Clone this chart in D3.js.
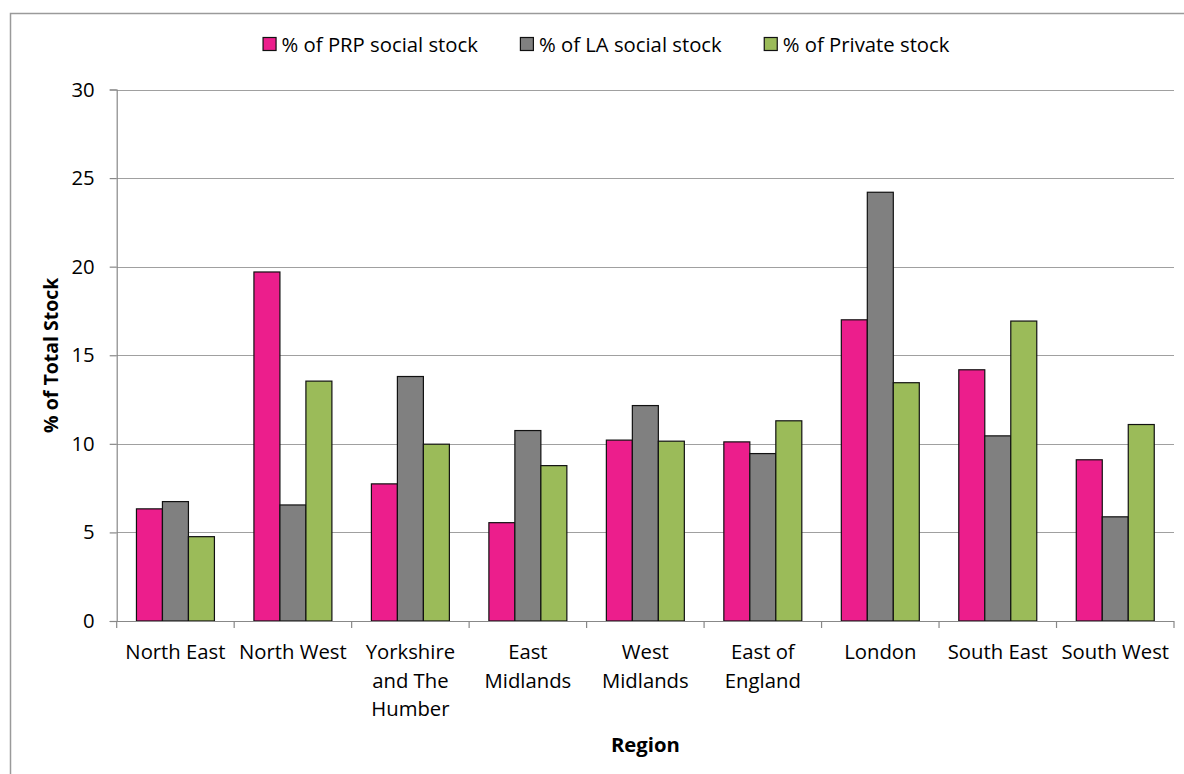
<!DOCTYPE html>
<html>
<head>
<meta charset="utf-8">
<script src="https://cdn.jsdelivr.net/npm/d3@7"></script>
<style>
  html, body { margin: 0; padding: 0; background: #fff; }
  svg { display: block; }
  text { font-family: "Open Sans", "Noto Sans", sans-serif; fill: #000; }
</style>
</head>
<body>
<svg id="chart" width="1184" height="774"></svg>
<script>
// Regions along the x axis
const categories = ["North East", "North West", "Yorkshire and The Humber", "East Midlands",
  "West Midlands", "East of England", "London", "South East", "South West"];

// Series names (legend order)
const seriesNames = ["% of PRP social stock", "% of LA social stock", "% of Private stock"];

// Share of total stock, per region
const prpValues     = [6.33, 19.7, 7.74, 5.55, 10.21, 10.11, 17.0, 14.18, 9.1];
const laValues      = [6.74, 6.55, 13.8, 10.75, 12.16, 9.45, 24.2, 10.45, 5.88];
const privateValues = [4.76, 13.54, 9.98, 8.77, 10.15, 11.3, 13.45, 16.93, 11.09];

// Y axis ticks
const yTicks = [0, 5, 10, 15, 20, 25, 30];

const seriesValues = [prpValues, laValues, privateValues];
const colors = ["#EC1E8C", "#808080", "#9BBB59"];
const FONT = "20.3px";

const svg = d3.select("#chart");

// Outer chart frame
svg.append("rect")
  .attr("x", 10.5).attr("y", 13.5)
  .attr("width", 1300).attr("height", 900)
  .attr("fill", "none").attr("stroke", "#9a9a9a").attr("stroke-width", 1.5);

const plot = { left: 116.7, right: 1174, top: 89.5, bottom: 621 };

const x0 = d3.scaleBand().domain(categories).range([plot.left, plot.right]).padding(0);
const x1 = d3.scaleBand().domain(seriesNames).range([0, x0.bandwidth()])
  .paddingInner(0).paddingOuter(0.76);
const y = d3.scaleLinear().domain([0, 30]).range([plot.bottom, plot.top]);

// Horizontal gridlines
svg.append("g")
  .selectAll("line")
  .data(yTicks.filter(t => t > 0))
  .join("line")
  .attr("x1", plot.left).attr("x2", plot.right)
  .attr("y1", d => Math.round(y(d)) + 0.5).attr("y2", d => Math.round(y(d)) + 0.5)
  .attr("stroke", "#a0a0a0").attr("stroke-width", 1.2);

// Bars
const rows = categories.map((c, i) => ({ cat: c, vals: seriesValues.map(s => s[i]) }));
svg.append("g")
  .selectAll("g")
  .data(rows)
  .join("g")
  .attr("transform", d => `translate(${x0(d.cat)},0)`)
  .selectAll("rect")
  .data(d => d.vals.map((v, k) => ({ name: seriesNames[k], v, k })))
  .join("rect")
  .attr("x", d => x1(d.name))
  .attr("y", d => y(d.v))
  .attr("width", x1.bandwidth())
  .attr("height", d => y(0) - y(d.v))
  .attr("fill", d => colors[d.k])
  .attr("stroke", "#111").attr("stroke-width", 1.2);

// Y axis
const yAxis = d3.axisLeft(y).tickValues(yTicks).tickSize(7).tickPadding(15).tickFormat(d3.format("d"));
const gy = svg.append("g").attr("transform", `translate(${plot.left},0)`).call(yAxis);
gy.select(".domain").attr("stroke", "#888").attr("stroke-width", 1.2);
gy.selectAll(".tick line").attr("stroke", "#888").attr("stroke-width", 1.2);
gy.selectAll(".tick text").attr("font-size", FONT)
  .attr("font-family", "'Open Sans', sans-serif").attr("fill", "#000");

// X axis: ticks sit on category boundaries
const boundaries = categories.map(c => x0(c)).concat([plot.right]);
const gx = svg.append("g");
gx.append("line")
  .attr("x1", plot.left).attr("x2", plot.right)
  .attr("y1", plot.bottom + 0.5).attr("y2", plot.bottom + 0.5)
  .attr("stroke", "#888").attr("stroke-width", 1.2);
gx.selectAll("line.tick")
  .data(boundaries)
  .join("line")
  .attr("class", "tick")
  .attr("x1", d => d).attr("x2", d => d)
  .attr("y1", plot.bottom).attr("y2", plot.bottom + 7)
  .attr("stroke", "#888").attr("stroke-width", 1.2);

// Category labels, wrapped to the band width
const maxW = x0.bandwidth() - 3;
categories.forEach(c => {
  const cx = x0(c) + x0.bandwidth() / 2;
  const t = gx.append("text")
    .attr("x", cx)
    .attr("y", 659)
    .attr("text-anchor", "middle")
    .attr("font-size", FONT);
  const words = c.split(" ");
  let line = [];
  let tspan = t.append("tspan").attr("x", cx).attr("dy", 0);
  words.forEach(w => {
    line.push(w);
    tspan.text(line.join(" "));
    if (tspan.node().getComputedTextLength() > maxW && line.length > 1) {
      line.pop();
      tspan.text(line.join(" "));
      line = [w];
      tspan = t.append("tspan").attr("x", cx).attr("dy", 28.5).text(w);
    }
  });
});

// Axis titles
svg.append("text")
  .attr("transform", `translate(58,${(plot.top + plot.bottom) / 2}) rotate(-90)`)
  .attr("text-anchor", "middle")
  .attr("font-size", "19.5px").attr("font-weight", "bold")
  .text("% of Total Stock");

svg.append("text")
  .attr("x", (plot.left + plot.right) / 2).attr("y", 752)
  .attr("text-anchor", "middle")
  .attr("font-size", FONT).attr("font-weight", "bold")
  .text("Region");

// Legend
const legend = svg.append("g");
let lx = 0;
const GAP = 42;
seriesNames.forEach((name, k) => {
  const g = legend.append("g");
  g.append("rect")
    .attr("x", 0.5).attr("y", -7.5).attr("width", 13).attr("height", 13)
    .attr("fill", colors[k]).attr("stroke", "#111").attr("stroke-width", 1.2);
  const txt = g.append("text").attr("x", 19).attr("y", 7).attr("font-size", FONT).text(name);
  const w = 19 + txt.node().getComputedTextLength();
  g.attr("transform", `translate(${lx},0)`);
  lx += w + GAP;
});
const legendW = lx - GAP;
legend.attr("transform", `translate(${606 - legendW / 2},45)`);
</script>
</body>
</html>
